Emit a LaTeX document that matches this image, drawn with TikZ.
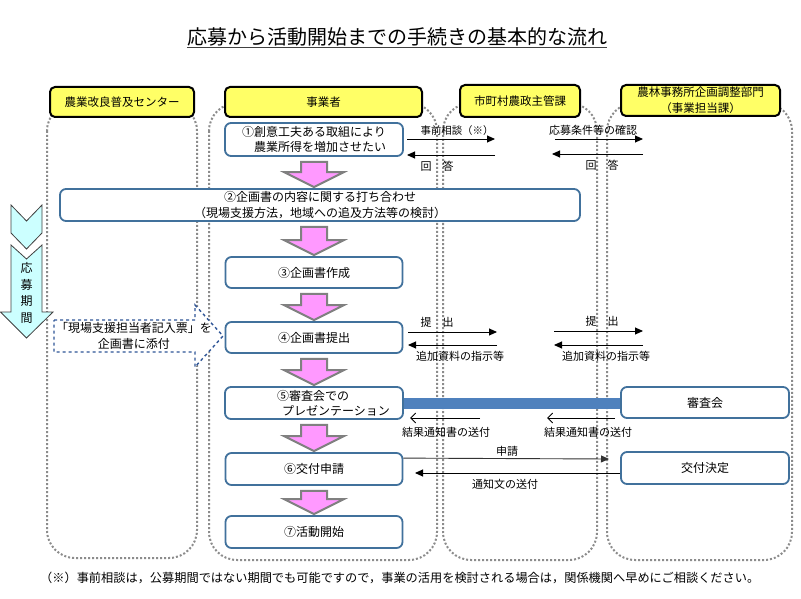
\documentclass[tikz,border=0pt]{standalone}
\usepackage{fontspec}
\setmainfont{Noto Sans CJK JP}
\usetikzlibrary{arrows.meta,calc}
\definecolor{hdryellow}{HTML}{FFFF66}
\definecolor{procblue}{HTML}{41719C}
\definecolor{lanegray}{HTML}{8C8C8C}
\definecolor{pinkfill}{HTML}{FF99FF}
\definecolor{pinkborder}{HTML}{808080}
\definecolor{cyanfill}{HTML}{CCFFFF}
\definecolor{dashblue}{HTML}{2F5597}
\definecolor{barblue}{HTML}{4F81BD}
\newcommand\pinkarr[3]{%
  \path[pinkarrow] let \p1=(#1.south), \p2=(#2.north), \p3=(#3.center) in
    (\x3-13pt,\y1-5pt) -- (\x3+13pt,\y1-5pt) -- (\x3+13pt,\y2+16pt)
    -- (\x3+30pt,\y2+16pt) -- (\x3,\y2+1pt) -- (\x3-30pt,\y2+16pt)
    -- (\x3-13pt,\y2+16pt) -- cycle;}
\begin{document}
\begin{tikzpicture}[x=1pt,y=-1pt,
  lane/.style={draw=lanegray,dotted,line width=2pt,rounded corners=28pt},
  hdr/.style={draw=black,line width=2pt,fill=hdryellow,rounded corners=5pt,
    inner sep=0pt,font=\fontsize{11.5}{16}\selectfont,align=center},
  proc/.style={draw=procblue,line width=1.8pt,fill=white,rounded corners=6pt,
    inner sep=0pt,font=\fontsize{12}{15}\selectfont},
  txt/.style={inner sep=0pt,font=\fontsize{12}{15}\selectfont},
  lbl/.style={inner sep=0pt,font=\fontsize{11}{13}\selectfont},
  pinkarrow/.style={draw=pinkborder,fill=pinkfill,line width=2pt,line join=miter},
  harr/.style={draw=black,line width=0.9pt,-{Triangle[length=8pt,width=7pt]}},
  oarr/.style={draw=black,line width=0.9pt,-{Straight Barb[length=5pt,width=10pt]}}
]
\useasboundingbox (0,0) rectangle (801,599);
\fill[white] (0,0) rectangle (801,599);

% title
\node[inner sep=0pt,anchor=base,font=\fontsize{20}{24}\selectfont] (title) at (397,45)
  {応募から活動開始までの手続きの基本的な流れ};
\draw[line width=1pt,black!75] ($(title.base west)+(0,3)$) -- ($(title.base east)+(0,3)$);

% lanes
\draw[lane] (47,103) rectangle (197,558);
\draw[lane] (209,103) rectangle (437,560);
\draw[lane] (443,103) rectangle (597,560);
\draw[lane] (607,103) rectangle (792,560);

% headers
\node[hdr,minimum width=144pt,minimum height=30pt] (h1) at (122,102) {農業改良普及センター};
\node[hdr,minimum width=197pt,minimum height=30pt] (h2) at (323.5,102) {事業者};
\node[hdr,minimum width=120pt,minimum height=32pt] (h3) at (520,101) {市町村農政主管課};
\node[hdr,minimum width=159pt,minimum height=31pt] (h4) at (700.5,100.5) {農林事務所企画調整部門\\（事業担当課）};

% cyan period arrow
\draw[draw=black!75,fill=cyanfill,line width=0.8pt,line join=miter]
  (11,205) -- (26.5,221) -- (42,205) -- (42,233) -- (26.5,249) -- (11,233) -- cycle;
\draw[draw=black!75,fill=cyanfill,line width=0.8pt,line join=miter]
  (11,245) -- (26.5,259) -- (42,245) -- (42,312) -- (53,312) -- (26.5,338)
  -- (0.5,312) -- (11,312) -- cycle;
\node[inner sep=0pt,align=center,font=\fontsize{12}{16.5}\selectfont] (period) at (26.5,293)
  {応\\募\\期\\間};

% dashed arrow
\draw[draw=dashblue,dashed,line width=1.4pt,fill=white,line join=miter]
  (54,320) -- (195,320) -- (195,305) -- (223,336) -- (195,367) -- (195,352) -- (54,352) -- cycle;
\node[txt,align=center,font=\fontsize{12}{16}\selectfont] (dn) at (134,336)
  {「現場支援担当者記入票」を\\企画書に添付};

% process boxes
\node[proc,minimum width=178pt,minimum height=33pt,align=left] (p1) at (314,139.5)
  {①創意工夫ある取組により\\　農業所得を増加させたい};
\node[proc,minimum width=520pt,minimum height=32pt,align=center,font=\fontsize{12}{16.5}\selectfont] (p2) at (320,205)
  {②企画書の内容に関する打ち合わせ\\（現場支援方法，地域への追及方法等の検討）};
\node[proc,minimum width=177pt,minimum height=31pt] (p3) at (314,272.5) {③企画書作成};
\node[proc,minimum width=177pt,minimum height=31pt] (p4) at (314,337.5) {④企画書提出};
\node[proc,minimum width=178pt,minimum height=32pt] (p5) at (314,403) {};
\node[txt,anchor=west,align=left] (t5) at (277,403)
  {⑤審査会での\\\hspace*{5pt}プレゼンテーション};
\node[proc,minimum width=177pt,minimum height=32pt] (p6) at (314,469) {⑥交付申請};
\node[proc,minimum width=177pt,minimum height=32pt] (p7) at (314,532) {⑦活動開始};
\node[proc,minimum width=168pt,minimum height=31pt] (s1) at (705,402.5) {審査会};
\node[proc,minimum width=168pt,minimum height=32pt] (s2) at (705,468) {交付決定};

% pink arrows
\pinkarr{p1}{p2}{p1}
\pinkarr{p2}{p3}{p3}
\pinkarr{p3}{p4}{p3}
\pinkarr{p4}{p5}{p4}
\pinkarr{p5}{p6}{p5}
\pinkarr{p6}{p7}{p6}

% row 1 arrows
\coordinate (a1s) at (407,139); \coordinate (a1e) at (495,139);
\coordinate (a2s) at (495,155); \coordinate (a2e) at (407,155);
\coordinate (a3s) at (555,139); \coordinate (a3e) at (643,139);
\coordinate (a4s) at (643,154); \coordinate (a4e) at (552,154);
\draw[harr] (a1s) -- (a1e);
\draw[harr] (a2s) -- (a2e);
\draw[harr] (a3s) -- (a3e);
\draw[harr] (a4s) -- (a4e);
\node[lbl,font=\fontsize{10.4}{12}\selectfont] (l1) at (457,131) {事前相談（※）};
\node[lbl] (l2) at (437,166) {回　答};
\node[lbl] (l3) at (593,130) {応募条件等の確認};
\node[lbl] (l4) at (602,165) {回　答};

% row 4 arrows
\coordinate (b1s) at (408,332); \coordinate (b1e) at (497,332);
\coordinate (b2s) at (497,345); \coordinate (b2e) at (408,345);
\coordinate (b3s) at (554,331); \coordinate (b3e) at (643,331);
\coordinate (b4s) at (643,345); \coordinate (b4e) at (554,345);
\draw[harr] (b1s) -- (b1e);
\draw[harr] (b2s) -- (b2e);
\draw[harr] (b3s) -- (b3e);
\draw[harr] (b4s) -- (b4e);
\node[lbl] (m1) at (437,322) {提　出};
\node[lbl] (m2) at (460,356) {追加資料の指示等};
\node[lbl] (m3) at (602,321) {提　出};
\node[lbl] (m4) at (606,356) {追加資料の指示等};

% row 5
\draw[barblue,line width=11pt] (p5.east) -- (p5.east -| s1.west);
\coordinate (c1s) at (480,418); \coordinate (c1e) at (410,418);
\coordinate (c2s) at (615,418); \coordinate (c2e) at (547,418);
\draw[oarr] (c1s) -- (c1e);
\draw[oarr] (c2s) -- (c2e);
\node[lbl] (n1) at (446,432) {結果通知書の送付};
\node[lbl] (n2) at (588,432) {結果通知書の送付};

% row 6
\coordinate (d1s) at ($(p6.north east)+(0,6)$);
\coordinate (d1e) at (609,459);
\coordinate (d2s) at ($(s2.west)+(0,5)$);
\coordinate (d2e) at (415,473);
\draw[harr,black!80] (d1s) -- (d1e);
\draw[harr] (d2s) -- (d2e);
\node[lbl] (o1) at (507,451) {申請};
\node[lbl] (o2) at (505,484) {通知文の送付};

% footnote
\node[inner sep=0pt,anchor=west,font=\fontsize{12.2}{14}\selectfont] (foot) at (40,578)
  {（※）事前相談は，公募期間ではない期間でも可能ですので，事業の活用を検討される場合は，関係機関へ早めにご相談ください。};
\end{tikzpicture}
\end{document}
